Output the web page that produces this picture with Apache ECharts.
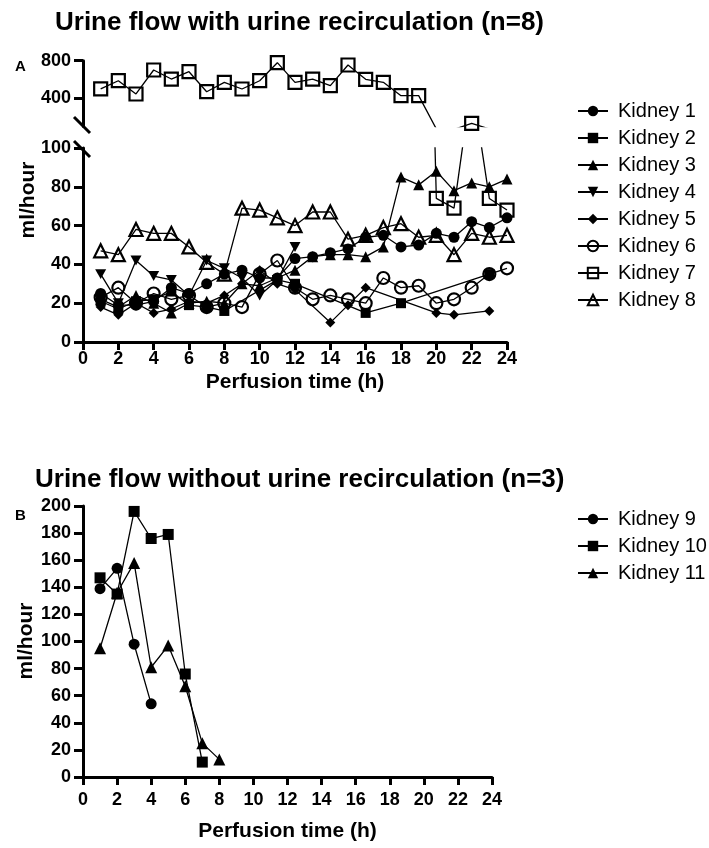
<!DOCTYPE html>
<html><head><meta charset="utf-8">
<script src="https://cdn.jsdelivr.net/npm/echarts@6/dist/echarts.min.js"></script>
<style>html,body{margin:0;padding:0;background:#fff}#c{width:709px;height:848px}</style>
</head><body><div id="c"></div>
<script>
// ---------- data ----------
const hoursA = [1,2,3,4,5,6,7,8,9,10,11,12,13,14,15,16,17,18,19,20,21,22,23,24];
const kidney1 = [25,19,19,21,28,25,30,35,37,33,33,43,44,46,48,54,55,49,50,56,54,62,59,64];
const kidney2 = [21,17,21,22,26,19,18,16,null,null,32,30,null,null,null,15,null,20,null,null,null,null,35,null];
const kidney3 = [22,18,24,20,15,20,21,20,30,29,33,37,44,45,45,44,49,85,81,88,78,82,80,84];
const kidney4 = [35,20,42,34,32,24,42,38,33,24,32,49,null,null,null,null,null,null,null,null,null,null,null,null];
const kidney5 = [18,14,20,15,17,21,20,24,30,37,30,27,null,10,19,28,null,null,null,15,14,null,16,null];
const kidney6 = [23,28,20,25,22,24,18,20,18,35,42,28,22,24,22,20,33,28,29,20,22,28,35,38];
const kidney7 = [500,587,446,701,605,683,470,570,499,587,779,570,605,535,754,602,570,428,428,74,69,134,74,68];
const kidney8 = [47,45,58,56,56,49,41,35,69,68,64,60,67,67,53,55,59,61,54,55,45,56,54,55];

const hoursB = [1,2,3,4,5,6,7,8];
const kidney9 = [139,154,98,54];
const kidney10 = [147,135,196,176,179,76,11];
const kidney11 = [95,136,158,81,97,67,25,13];

const upperTicks = [400, 800];

// ---------- helpers ----------
const FONT = 'Liberation Sans, Arial, Helvetica, sans-serif';
function pairs(hours, vals) {
  const out = [];
  vals.forEach((v, i) => { if (v !== null && v !== undefined) out.push([hours[i], v]); });
  return out;
}
const DOWN_TRI = 'path://M0,0L10,0L5,9Z';
function mk(name, data, symbol, size, open, xi, yi) {
  return {
    name, type: 'line', data, xAxisIndex: xi, yAxisIndex: yi,
    symbol, symbolSize: size, symbolKeepAspect: true, showAllSymbol: true,
    clip: true, animation: false, connectNulls: true,
    lineStyle: { color: '#000', width: 1.3 },
    itemStyle: open ? { color: 'rgba(255,255,255,0)', borderColor: '#000', borderWidth: 2.2 }
                    : { color: '#000', borderWidth: 0 },
    emphasis: { disabled: true }
  };
}
function xAxisStyle(grid, nameGap, labelMargin) {
  return {
    type: 'value', gridIndex: grid, min: 0, max: 24, interval: 2,
    axisLine: { show: true, onZero: false, lineStyle: { color: '#000', width: 3 } },
    axisTick: { show: true, inside: false, length: 8, lineStyle: { color: '#000', width: 3 } },
    axisLabel: { color: '#000', fontSize: 18, fontWeight: 'bold', fontFamily: FONT, margin: labelMargin },
    splitLine: { show: false },
    name: 'Perfusion time (h)', nameLocation: 'middle', nameGap: nameGap,
    nameTextStyle: { color: '#000', fontSize: 21, fontWeight: 'bold', fontFamily: FONT }
  };
}
function yAxisStyle(grid, min, max, interval) {
  const o = {
    type: 'value', gridIndex: grid, min, max,
    axisLine: { show: true, onZero: false, lineStyle: { color: '#000', width: 3 } },
    axisTick: { show: true, inside: false, length: 9, lineStyle: { color: '#000', width: 3 } },
    axisLabel: { color: '#000', fontSize: 18, fontWeight: 'bold', fontFamily: FONT, margin: 12 },
    splitLine: { show: false }
  };
  if (interval) o.interval = interval;
  return o;
}

const upperY = yAxisStyle(0, 100, 800);
upperY.axisTick.customValues = upperTicks;
upperY.axisLabel.customValues = upperTicks;

const legendText = { color: '#000', fontSize: 20, fontFamily: FONT, padding: [0,0,0,5] };

const chart = echarts.init(document.getElementById('c'), null, { renderer: 'canvas' });
const option = {
  backgroundColor: '#fff',
  animation: false,
  title: [
    { text: 'Urine flow with urine recirculation (n=8)', left: 50, top: 5,
      textStyle: { fontSize: 26, fontWeight: 'bold', fontFamily: FONT, color: '#000' } },
    { text: 'Urine flow without urine recirculation (n=3)', left: 30, top: 462,
      textStyle: { fontSize: 26, fontWeight: 'bold', fontFamily: FONT, color: '#000' } },
    { text: 'A', left: 10, top: 54, textStyle: { fontSize: 15, fontWeight: 'bold', fontFamily: FONT, color: '#000' } },
    { text: 'B', left: 10, top: 503, textStyle: { fontSize: 15, fontWeight: 'bold', fontFamily: FONT, color: '#000' } }
  ],
  grid: [
    { left: 83, top: 60.7, width: 424, height: 65.8 },
    { left: 83, top: 148, width: 424, height: 194 },
    { left: 83, top: 506, width: 409, height: 271 }
  ],
  xAxis: [
    { type: 'value', gridIndex: 0, min: 0, max: 24, show: false },
    xAxisStyle(1, 30, 8),
    xAxisStyle(2, 44, 14)
  ],
  yAxis: [
    upperY,
    yAxisStyle(1, 0, 100, 20),
    yAxisStyle(2, 0, 200, 20)
  ],
  legend: [
    { orient: 'vertical', left: 572, top: 96, itemWidth: 30, itemHeight: 13, itemGap: 7,
      selectedMode: false,
      data: ['Kidney 1','Kidney 2','Kidney 3','Kidney 4','Kidney 5','Kidney 6','Kidney 7','Kidney 8'],
      textStyle: legendText },
    { orient: 'vertical', left: 572, top: 504, itemWidth: 30, itemHeight: 13, itemGap: 7,
      selectedMode: false,
      data: ['Kidney 9','Kidney 10','Kidney 11'],
      textStyle: legendText }
  ],
  graphic: [
    { type: 'line', shape: { x1: 74, y1: 117, x2: 90, y2: 133 }, style: { stroke: '#000', lineWidth: 3 } },
    { type: 'line', shape: { x1: 74, y1: 141, x2: 90, y2: 157 }, style: { stroke: '#000', lineWidth: 3 } },
    { type: 'text', x: 28, y: 200, rotation: Math.PI / 2,
      style: { text: 'ml/hour', font: 'bold 21px ' + FONT, fill: '#000', textAlign: 'center', textVerticalAlign: 'middle' } },
    { type: 'text', x: 26, y: 641, rotation: Math.PI / 2,
      style: { text: 'ml/hour', font: 'bold 21px ' + FONT, fill: '#000', textAlign: 'center', textVerticalAlign: 'middle' } }
  ],
  series: [
    mk('Kidney 1', pairs(hoursA, kidney1), 'circle', 11, false, 1, 1),
    mk('Kidney 2', pairs(hoursA, kidney2), 'rect', 10, false, 1, 1),
    mk('Kidney 3', pairs(hoursA, kidney3), 'triangle', 11, false, 1, 1),
    mk('Kidney 4', pairs(hoursA, kidney4), DOWN_TRI, 11, false, 1, 1),
    mk('Kidney 5', pairs(hoursA, kidney5), 'diamond', 10, false, 1, 1),
    mk('Kidney 6', pairs(hoursA, kidney6), 'circle', 12, true, 1, 1),
    mk('Kidney 7', pairs(hoursA, kidney7), 'rect', 13, true, 1, 1),
    mk('Kidney 7', pairs(hoursA, kidney7), 'rect', 13, true, 0, 0),
    mk('Kidney 8', pairs(hoursA, kidney8), 'triangle', 13, true, 1, 1),
    mk('Kidney 9', pairs(hoursB, kidney9), 'circle', 11, false, 2, 2),
    mk('Kidney 10', pairs(hoursB, kidney10), 'rect', 11, false, 2, 2),
    mk('Kidney 11', pairs(hoursB, kidney11), 'triangle', 12, false, 2, 2)
  ]
};
chart.setOption(option);
</script>
</body></html>
